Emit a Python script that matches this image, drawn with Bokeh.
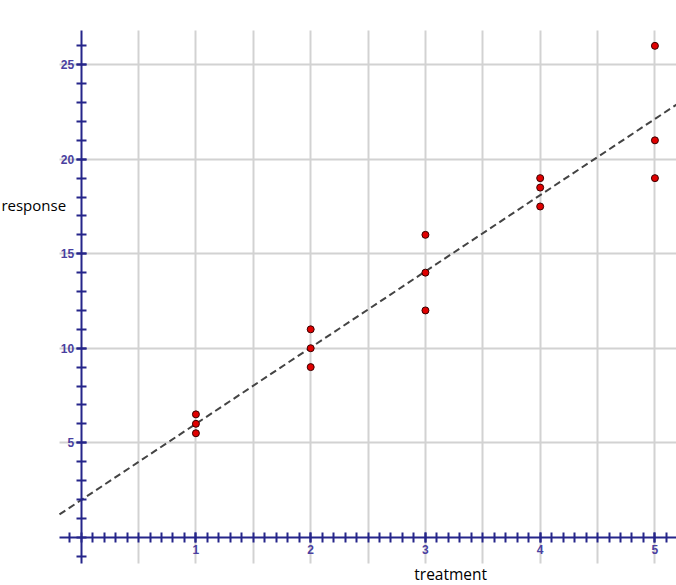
import numpy as np
from bokeh.plotting import figure
from bokeh.models import (LinearAxis, FixedTicker, Grid, Range1d, Label,
                          ColumnDataSource)
from bokeh.embed import file_html
from bokeh.resources import INLINE

# ---- data ----
treatment = [1, 1, 1, 2, 2, 2, 3, 3, 3, 4, 4, 4, 5, 5, 5]
response = [5.5, 6, 6.5, 9, 10, 11, 12, 14, 16, 17.5, 18.5, 19, 19, 21, 26]
x_tick_labels = [1, 2, 3, 4, 5]
y_tick_labels = [5, 10, 15, 20, 25]
x_grid = [0.5, 1, 1.5, 2, 2.5, 3, 3.5, 4, 4.5, 5]
y_grid = [5, 10, 15, 20, 25]
x_minor = [round(-0.1 + 0.1 * i, 1) for i in range(53)]
y_minor = list(range(-1, 27))

# visible plotting window (data units)
x_lo, x_hi = -0.189, 5.19
y_lo, y_hi = -1.37, 26.81
# whole canvas (data units)
cx_lo, cx_hi = -0.703, 5.188
cy_lo, cy_hi = -2.556, 28.40

slope, intercept = np.polyfit(treatment, response, 1)

AXIS_COLOR = "#25258a"
LABEL_COLOR = "#4a3fa0"
GRID_COLOR = "#d2d2d2"

p = figure(width=676, height=585, output_backend="svg", toolbar_location=None,
           x_range=Range1d(cx_lo, cx_hi), y_range=Range1d(cy_lo, cy_hi),
           x_axis_type=None, y_axis_type=None,
           min_border=0)
p.outline_line_color = None
p.background_fill_color = "white"

# grids
try:
    p.add_layout(Grid(dimension=0, ticker=FixedTicker(ticks=x_grid),
                      cross_bounds=(y_lo, y_hi),
                      grid_line_color=GRID_COLOR, grid_line_width=2))
    p.add_layout(Grid(dimension=1, ticker=FixedTicker(ticks=y_grid),
                      cross_bounds=(x_lo, x_hi),
                      grid_line_color=GRID_COLOR, grid_line_width=2))
except Exception:
    p.segment(x0=x_grid, y0=[y_lo] * len(x_grid), x1=x_grid, y1=[y_hi] * len(x_grid),
              line_color=GRID_COLOR, line_width=2)
    p.segment(x0=[x_lo] * len(y_grid), y0=y_grid, x1=[x_hi] * len(y_grid), y1=y_grid,
              line_color=GRID_COLOR, line_width=2)

# regression line
xs = np.array([x_lo, x_hi])
p.line(xs, slope * xs + intercept, line_color="#444444", line_width=2,
       line_dash="7 4")

# points
src = ColumnDataSource(dict(x=treatment, y=response))
p.scatter("x", "y", source=src, size=7, fill_color="#e00000",
          line_color="#3a0000", line_width=1)

def style_axis(ax):
    ax.axis_line_color = AXIS_COLOR
    ax.axis_line_width = 2
    ax.major_tick_line_color = AXIS_COLOR
    ax.minor_tick_line_color = AXIS_COLOR
    ax.major_tick_line_width = 2
    ax.minor_tick_line_width = 2
    ax.major_tick_in = 5
    ax.major_tick_out = 5
    ax.minor_tick_in = 5
    ax.minor_tick_out = 5
    ax.major_label_text_color = LABEL_COLOR
    ax.major_label_text_font = "Liberation Sans"
    ax.major_label_text_font_size = "12px"
    ax.major_label_text_font_style = "bold"

xaxis = LinearAxis(ticker=FixedTicker(ticks=x_tick_labels, minor_ticks=x_minor),
                   fixed_location=0, bounds=(x_lo, x_hi))
style_axis(xaxis)
xaxis.major_label_standoff = 3
p.add_layout(xaxis, "below")

yaxis = LinearAxis(ticker=FixedTicker(ticks=y_tick_labels, minor_ticks=y_minor),
                   fixed_location=0, bounds=(y_lo, y_hi))
style_axis(yaxis)
yaxis.major_label_standoff = 2
p.add_layout(yaxis, "left")

# axis titles
p.add_layout(Label(x=-0.695, y=17.6, text="response", text_font="Open Sans",
                   text_font_size="15px", text_color="black",
                   text_baseline="middle", text_align="left"))
p.add_layout(Label(x=3.22, y=-1.93, text="treatment", text_font="Open Sans",
                   text_font_size="15.5px", text_color="black",
                   text_baseline="middle", text_align="center"))

open("out.html", "w").write(file_html(p, INLINE))
